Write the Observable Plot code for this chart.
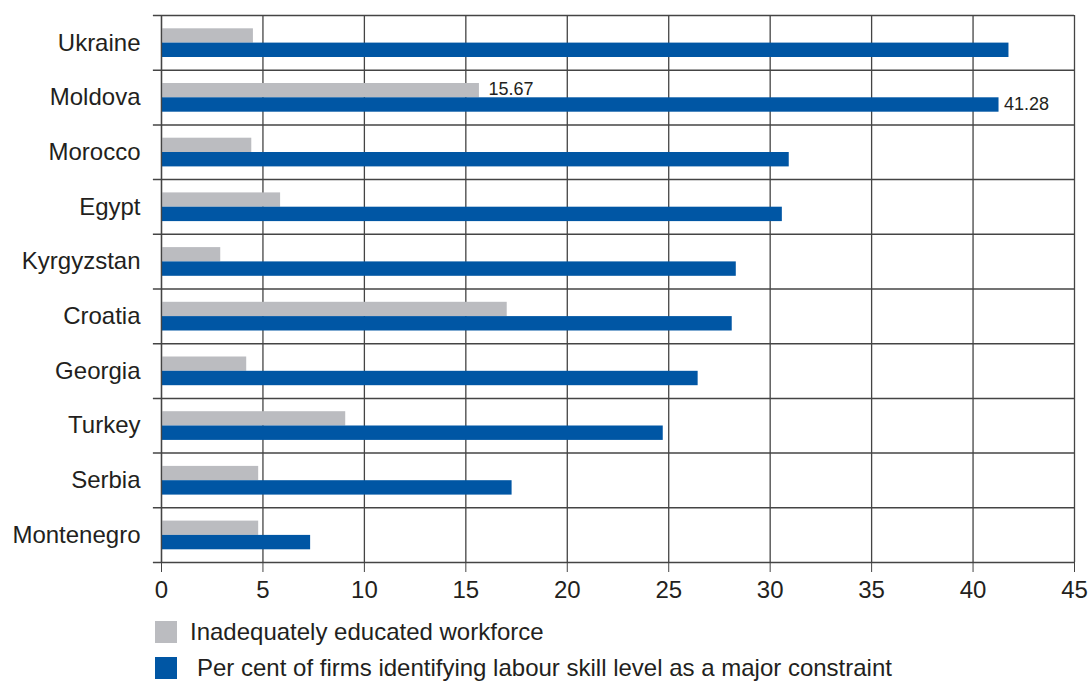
<!DOCTYPE html>
<html>
<head>
<meta charset="utf-8">
<script src="https://cdn.jsdelivr.net/npm/d3@7"></script>
<script src="https://cdn.jsdelivr.net/npm/@observablehq/plot@0.6"></script>
<style>
  html, body { margin: 0; padding: 0; background: #ffffff; }
  body { font-family: "Liberation Sans", Arial, Helvetica, sans-serif; color: #231f20; width: 1088px; }
  #chart svg { display: block; }
  .legend { margin-left: 155px; margin-top: 16px; }
  .legend .row { display: flex; align-items: center; height: 22px; font-size: 24px; margin-bottom: 14px; white-space: nowrap; }
  .legend .sw { width: 22px; height: 22px; flex: none; }
</style>
</head>
<body>
<div id="chart"></div>
<div class="legend" id="legend"></div>
<script>
// ---- data ----
const countries = ["Ukraine", "Moldova", "Morocco", "Egypt", "Kyrgyzstan", "Croatia", "Georgia", "Turkey", "Serbia", "Montenegro"];
const educatedWorkforce = [4.53, 15.67, 4.45, 5.87, 2.92, 17.04, 4.20, 9.08, 4.79, 4.79];
const skillConstraint = [41.77, 41.28, 30.94, 30.60, 28.33, 28.13, 26.45, 24.73, 17.28, 7.35];
const xTicks = [0, 5, 10, 15, 20, 25, 30, 35, 40, 45];
const seriesNames = ["Inadequately educated workforce", "Per cent of firms identifying labour skill level as a major constraint"];
const seriesColors = ["#bbbcc0", "#0056a4"];
const labelledCountries = ["Moldova"];

// ---- table built from the arrays ----
const rows = countries.map((c, i) => ({country: c, educated: educatedWorkforce[i], skill: skillConstraint[i]}));
const labelled = rows.filter(d => labelledCountries.includes(d.country));

// ---- layout ----
const W = 1088, H = 605;
const mTop = 15, mBottom = 43, mLeft = 161, mRight = 14;
const bw = (H - mTop - mBottom) / countries.length;
const gridColor = "#444444";
const textColor = "#231f20";

const chart = Plot.plot({
  width: W,
  height: H,
  marginTop: mTop,
  marginBottom: mBottom,
  marginLeft: mLeft,
  marginRight: mRight,
  style: {fontFamily: '"Liberation Sans", Arial, Helvetica, sans-serif', fontSize: "24px", color: textColor, background: "#ffffff", overflow: "visible"},
  x: {domain: [0, 45], ticks: xTicks, label: null},
  y: {domain: countries, padding: 0, round: false, label: null},
  marks: [
    // vertical grid lines
    Plot.ruleX(xTicks, {x: d => d, stroke: gridColor, strokeWidth: 1.3}),
    // horizontal lines at band boundaries (extending left as ticks)
    Plot.ruleY(countries, {y: d => d, x1: -0.4, x2: 45, dy: -bw / 2, stroke: gridColor, strokeWidth: 1.5}),
    Plot.ruleY(countries.slice(-1), {y: d => d, x1: -0.4, x2: 45, dy: bw / 2, stroke: gridColor, strokeWidth: 1.5}),
    // bars
    Plot.barX(rows, {y: "country", x: "educated", fill: seriesColors[0], insetTop: 13.3, insetBottom: bw - 27.6}),
    Plot.barX(rows, {y: "country", x: "skill", fill: seriesColors[1], insetTop: 27.6, insetBottom: 12.7}),
    // left axis line over bars
    Plot.ruleX([0], {stroke: gridColor, strokeWidth: 1.3}),
    // value labels
    Plot.text(labelled, {y: "country", x: "educated", text: d => d.educated.toFixed(2), dx: 9, dy: -8, textAnchor: "start", fontSize: 18, fill: textColor}),
    Plot.text(labelled, {y: "country", x: "skill", text: d => d.skill.toFixed(2), dx: 5, dy: 7, textAnchor: "start", fontSize: 18, fill: textColor}),
    // axes
    Plot.axisX({ticks: xTicks, tickSize: 10, tickPadding: 8, stroke: gridColor, fill: textColor, fontSize: 24, label: null}),
    Plot.axisY({tickSize: 0, tickPadding: 21, fill: textColor, fontSize: 24, label: null})
  ]
});
document.getElementById("chart").appendChild(chart);

// ---- legend ----
const legend = document.getElementById("legend");
seriesNames.forEach((name, i) => {
  const row = document.createElement("div");
  row.className = "row";
  const sw = document.createElement("div");
  sw.className = "sw";
  sw.style.background = seriesColors[i];
  sw.style.marginRight = i === 0 ? "13px" : "20px";
  const t = document.createElement("span");
  t.textContent = name;
  row.appendChild(sw);
  row.appendChild(t);
  legend.appendChild(row);
});
</script>
</body>
</html>
